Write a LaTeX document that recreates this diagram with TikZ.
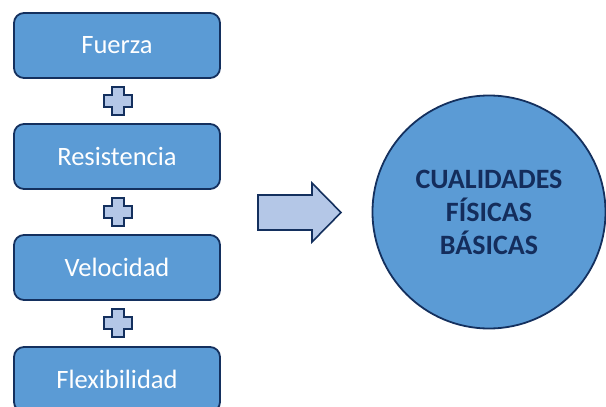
\documentclass[tikz,border=0pt]{standalone}
\usepackage{fontspec}
\setmainfont{Carlito}
\usepackage{tikz}
\usetikzlibrary{shapes}

\definecolor{cajaazul}{HTML}{5B9BD5}
\definecolor{bordeazul}{HTML}{14305E}
\definecolor{azulclaro}{HTML}{B4C7E7}
\definecolor{textoazul}{HTML}{142D5C}

\begin{document}
\begin{tikzpicture}[x=1pt,y=-1pt]
		\tikzstyle {caja} = [draw=bordeazul, line width=1.8pt, fill=cajaazul, rounded corners=10pt,
			minimum width=206pt, minimum height=65pt, text=white, font=\fontsize{26.5}{32}\selectfont]
		\tikzstyle {signo} = [draw=bordeazul, line width=1.6pt, fill=azulclaro, line join=miter]
		\tikzstyle {flecha} = [draw=bordeazul, line width=1.6pt, fill=azulclaro, line join=miter]

		\useasboundingbox (0,0) rectangle (606,407);

		\node[caja] (fuerza) at (117, 45.5) {Fuerza};
		\node[caja] (resistencia) at (117, 156.5) {Resistencia};
		\node[caja] (velocidad) at (117, 267.5) {Velocidad};
		\node[caja] (flexibilidad) at (117, 379.5) {Flexibilidad};

		% signos mas entre cajas
		\foreach \y in {101, 212, 323}
			\draw[signo] (112, \y-14) -- (124, \y-14) -- (124, \y-6) -- (132, \y-6) -- (132, \y+6)
				-- (124, \y+6) -- (124, \y+14) -- (112, \y+14) -- (112, \y+6) -- (104, \y+6)
				-- (104, \y-6) -- (112, \y-6) -- cycle;

		\draw[flecha] (258, 195) -- (312, 195) -- (312, 183) -- (341, 212.5) -- (312, 242)
			-- (312, 230) -- (258, 230) -- cycle;

		\node[circle, draw=bordeazul, line width=1.8pt, fill=cajaazul, minimum size=233pt,
			inner sep=0pt, align=center, text=textoazul,
			font=\bfseries\fontsize{28}{33}\selectfont] (cualidades) at (489, 212)
			{CUALIDADES\\FÍSICAS\\BÁSICAS};
	\end{tikzpicture}
\end{document}
